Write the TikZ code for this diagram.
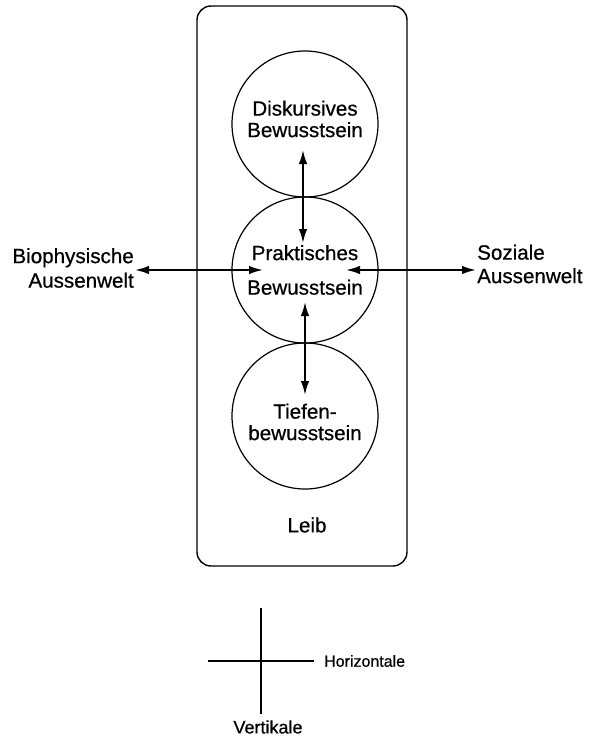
\documentclass[tikz,border=0pt]{standalone}
\usepackage{fontspec}
\setmainfont{Liberation Sans}
\newfontfamily\heavy{Liberation Sans}[FakeBold=0.6]
\usetikzlibrary{arrows.meta,calc}
\begin{document}
\begin{tikzpicture}[x=1pt,y=-1pt,
  ring/.style={draw, circle, line width=1.2pt, minimum size=146pt, inner sep=0pt},
  txt/.style={font=\heavy\fontsize{20.6}{21.5}\selectfont, inner sep=1pt, align=center},
  small/.style={font=\heavy\fontsize{16}{18}\selectfont, inner sep=1pt},
  arr/.style={line width=1.8pt, {Latex[length=14pt,width=8.5pt]}-{Latex[length=14pt,width=8.5pt]}}
]
\useasboundingbox (0,0) rectangle (593,739);
\node[draw, line width=1.4pt, rounded corners=14pt, minimum width=210pt, minimum height=560pt, inner sep=0pt] (leibbox) at (302,286) {};
\node[ring] (c1) at (305,124) {};
\node[ring] (c2) at (305,270) {};
\node[ring] (c3) at (305,416) {};
\node[txt] (t1) at (305,119) {Diskursives\\Bewusstsein};
\node[txt] (t2) at (305,270) {Praktisches\\[13pt]Bewusstsein};
\node[txt] (t3) at (305,422) {Tiefen-\\bewusstsein};
\node[txt] (leib) at (307,525) {Leib};
\node[txt, anchor=east, align=right] (bio) at (135,268) {Biophysische\\[3pt]Aussenwelt};
\node[txt, anchor=west, align=left] (soz) at (476,264) {Soziale\\[2pt]Aussenwelt};
\draw[arr] ($(c1.center)+(-2,26)$) -- ($(c2.center)+(-2,-27)$);
\draw[arr] ($(c2.center)+(0,32)$) -- ($(c3.center)+(0,-21)$);
\draw[arr] (bio.east |- c2.center) -- ($(c2.center)+(-42,0)$);
\draw[arr] ($(c2.center)+(41,0)$) -- (soz.west |- c2.center);
% axes cross
\coordinate (vt) at (261,608);
\coordinate (vb) at (261,714);
\coordinate (hl) at (208,661);
\coordinate (hr) at (314,661);
\draw[line width=1.3pt] (vt) -- (vb);
\draw[line width=1.3pt] (hl) -- (hr);
\node[small, anchor=west] (hor) at (323,661) {Horizontale};
\node[small, font=\heavy\fontsize{18}{20}\selectfont] (ver) at (268,727) {Vertikale};
\end{tikzpicture}
\end{document}
